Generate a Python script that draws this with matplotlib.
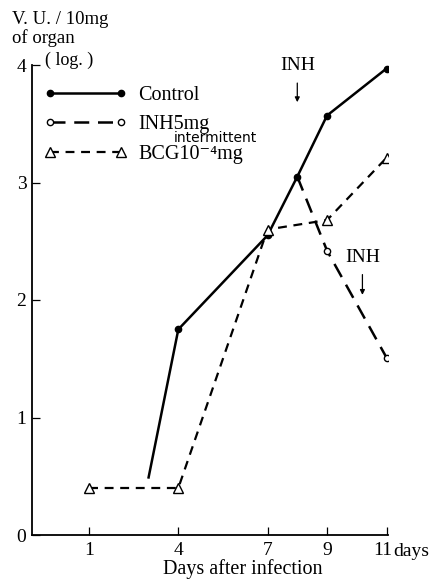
import matplotlib
matplotlib.use("Agg")
import matplotlib.pyplot as plt
from matplotlib.lines import Line2D
from matplotlib.transforms import ScaledTranslation

plt.rcParams['font.family'] = ['Liberation Serif', 'DejaVu Serif']

# Data
control_days = [3, 4, 7, 8, 9, 11]
control_vals = [0.49, 1.75, 2.55, 3.05, 3.57, 3.97]
inh_days = [8, 9, 11]
inh_vals = [3.05, 2.42, 1.51]
bcg_days = [1, 4, 7, 9, 11]
bcg_vals = [0.40, 0.40, 2.60, 2.68, 3.21]
x_ticks = [1, 4, 7, 9, 11]
x_ticklabels = ['1', '4', '7', '9', '11']
y_ticks = [0, 1, 2, 3, 4]
y_ticklabels = ['0', '1', '2', '3', '4']
series_labels = ['Control', 'INH5mg', 'BCG10\u207b\u2074mg']

W, H = 443, 580
fig = plt.figure(figsize=(W / 100, H / 100), dpi=100)
left, right, bottom, top = 32, 388, 535, 65
ax = fig.add_axes([left / W, 1 - bottom / H, (right - left) / W, (bottom - top) / H])
ax.set_xlim(-0.92, 11.05)
ax.set_ylim(0, 4)

for s in ['top', 'right']:
    ax.spines[s].set_visible(False)
for s in ['left', 'bottom']:
    ax.spines[s].set_linewidth(1.3)
    ax.spines[s].set_color('black')

ax.set_xticks(x_ticks)
ax.set_xticklabels(x_ticklabels)
ax.set_yticks(y_ticks)
ax.set_yticklabels(y_ticklabels)
ax.tick_params(axis='x', direction='in', length=6, width=0.9, labelsize=14, pad=5)
ax.tick_params(axis='y', direction='in', length=6, width=0.9, labelsize=14, pad=4)
last = ax.get_xticklabels()[-1]
last.set_transform(last.get_transform() + ScaledTranslation(-4 / 100, 0, fig.dpi_scale_trans))

ax.plot(control_days, control_vals, color='black', lw=1.8, marker='o', ms=4.5,
        markevery=[1, 2, 3, 4, 5], mfc='black', mec='black')
ax.plot(inh_days, inh_vals, color='black', lw=1.8, dashes=(6, 3.5), marker='o', ms=4.5,
        markevery=[1, 2], mfc='white', mec='black', mew=1.0)
ax.plot(bcg_days, bcg_vals, color='black', lw=1.6, dashes=(4, 3), marker='^', ms=6.5,
        mfc='white', mec='black', mew=1.0)

h1 = Line2D([], [], color='black', lw=1.8, marker='o', ms=4.5, mfc='black')
h2 = Line2D([], [], color='black', lw=1.8, dashes=(6, 3.5), marker='o', ms=4.5, mfc='white', mew=1.0)
h3 = Line2D([], [], color='black', lw=1.6, dashes=(4, 3), marker='^', ms=6.5, mfc='white', mew=1.0)
leg_kw = dict(loc='upper left', frameon=False, numpoints=2, handlelength=4.13,
              handletextpad=0.55, labelspacing=0.5, fontsize=14.5,
              borderaxespad=0, borderpad=0)
leg1 = ax.legend([h1, h2], series_labels[:2], bbox_to_anchor=(0.034, 0.956), **leg_kw)
ax.add_artist(leg1)
leg2 = ax.legend([h3], series_labels[2:], bbox_to_anchor=(0.034, 0.829), **leg_kw)

fig.text(174 / W, 1 - 138 / H, 'intermittent', fontsize=10, family='DejaVu Sans',
         ha='left', va='center')

# INH annotations
ax.text(8, 4.0, 'INH', fontsize=14, ha='center', va='center')
ax.annotate('', xy=(8, 3.66), xytext=(8, 3.87),
            arrowprops=dict(arrowstyle='-|>', color='black', lw=0.9, mutation_scale=7))
ax.text(10.19, 2.36, 'INH', fontsize=14, ha='center', va='center')
ax.annotate('', xy=(10.19, 2.02), xytext=(10.19, 2.24),
            arrowprops=dict(arrowstyle='-|>', color='black', lw=0.9, mutation_scale=7))

# Axis titles
fig.text(12 / W, 1 - 19 / H, 'V. U. / 10mg', fontsize=13.5, ha='left', va='center')
fig.text(12 / W, 1 - 38 / H, 'of organ', fontsize=13.5, ha='left', va='center')
fig.text(45 / W, 1 - 60 / H, '( log. )', fontsize=13, ha='left', va='center')
fig.text(393 / W, 1 - 551 / H, 'days', fontsize=14, ha='left', va='center')
fig.text(243 / W, 1 - 569 / H, 'Days after infection', fontsize=14.5, ha='center', va='center')

fig.savefig('out.png', dpi=100)
